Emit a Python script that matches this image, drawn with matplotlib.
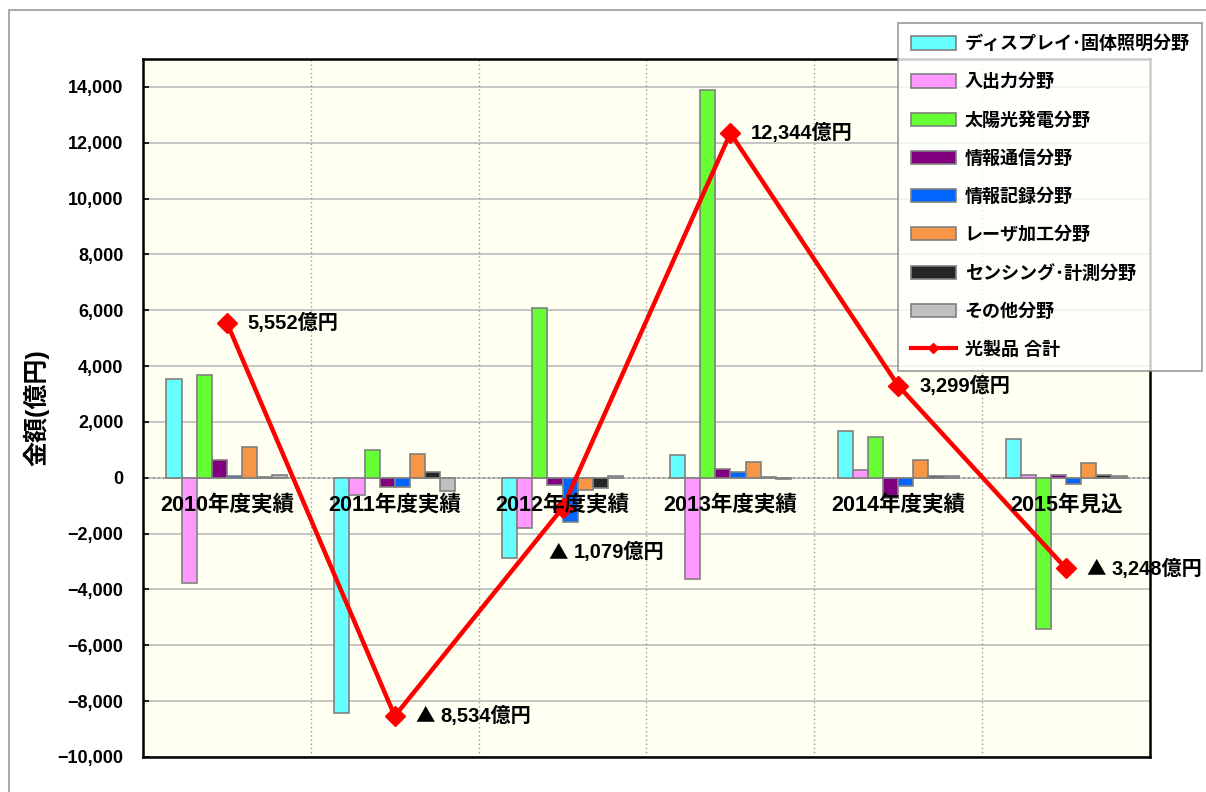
import matplotlib
matplotlib.use("Agg")
import matplotlib.pyplot as plt
import numpy as np
from matplotlib.patches import Rectangle, Patch
from matplotlib.lines import Line2D

plt.rcParams['font.family'] = ['Liberation Sans', 'Noto Sans CJK JP', 'DejaVu Sans']
plt.rcParams['font.weight'] = 'bold'

categories = ["2010年度実績", "2011年度実績", "2012年度実績", "2013年度実績", "2014年度実績", "2015年見込"]
series_names = ["ディスプレイ･固体照明分野", "入出力分野", "太陽光発電分野", "情報通信分野",
                "情報記録分野", "レーザ加工分野", "センシング･計測分野", "その他分野"]
display = [3530, -8420, -2860, 820, 1690, 1400]
io = [-3760, -600, -1810, -3630, 280, 110]
solar = [3690, 990, 6080, 13880, 1450, -5410]
infocomm = [640, -340, -270, 320, -710, 110]
storage = [70, -340, -1580, 220, -290, -230]
laser = [1100, 840, -450, 580, 640, 530]
sensing = [35, 190, -350, 40, 50, 110]
other = [100, -470, 60, -50, 50, 60]
total_name = "光製品 合計"
totals = [5552, -8534, -1079, 12344, 3299, -3248]
yticks = list(range(-10000, 14001, 2000))

series = [display, io, solar, infocomm, storage, laser, sensing, other]
colors = ["#66FFFF", "#FF99FF", "#66FF33", "#800080", "#0066FF", "#F79646", "#262626", "#C0C0C0"]

fig = plt.figure(figsize=(12.06, 7.92), dpi=100)
ax = fig.add_axes([143/1206, 1-757/792, (1150-143)/1206, (757-59)/792])
ax.set_facecolor("#FFFFF2")

x = np.arange(len(categories))
w = 0.09
for i, (vals, c) in enumerate(zip(series, colors)):
    ax.bar(x + (i - 3.5) * w, vals, width=w, color=c, edgecolor="#808080", linewidth=1.2, zorder=3)

ax.plot(x, totals, color="#FF0000", linewidth=3.2, marker="D", markersize=10,
        markerfacecolor="#FF0000", markeredgecolor="#FF0000", zorder=5)

ax.set_xlim(-0.5, len(categories) - 0.5)
ax.set_ylim(-10000, 15000)
ax.set_yticks(yticks)
ax.set_yticklabels([f"{v:,}".replace("-", "\u2212") for v in yticks], fontsize=13, fontweight='bold')
ax.tick_params(axis='y', direction='in', length=4, width=1.2, pad=14)
ax.set_xticks([])
ax.yaxis.grid(True, color="#C0C0C0", linewidth=1.3, zorder=0)
ax.set_axisbelow(True)
for b in np.arange(0.5, len(categories) - 0.5, 1.0):
    ax.axvline(b, color="#999999", linestyle=(0, (1, 2)), linewidth=1.0, zorder=1)
ax.axhline(0, color="#888888", linestyle=(0, (1, 2)), linewidth=1.2, zorder=2)
for s in ax.spines.values():
    s.set_linewidth(1.8)
    s.set_color("black")

for xi, lab in zip(x, categories):
    ax.annotate(lab, (xi, 0), xytext=(0, -12), textcoords='offset points', ha='center', va='top',
                fontsize=15.5, fontweight='bold', zorder=6)

cjk = ['Noto Sans CJK JP', 'DejaVu Sans']
for i, v in enumerate(totals):
    num = f"{abs(v):,}億円"
    base = (-10, -32) if i == 2 else (15, 0)
    if v < 0:
        ax.annotate("▲", (x[i], v), xytext=base, textcoords='offset points', ha='left', va='center',
                    fontsize=14, fontweight='bold', family=cjk, zorder=7)
        off = (base[0] + 18, base[1])
    else:
        off = base
    ax.annotate(num, (x[i], v), xytext=off, textcoords='offset points', ha='left', va='center',
                fontsize=14.5, fontweight='bold', zorder=7)

ax.set_ylabel("金額(億円)", fontsize=18, fontweight='bold')
ax.yaxis.set_label_coords(-0.093, 0.5)

handles = [Patch(facecolor=c, edgecolor="#808080", linewidth=1.2) for c in colors]
handles.append(Line2D([0], [0], color="#FF0000", linewidth=3, marker="D", markersize=5))
leg = fig.legend(handles, series_names + [total_name], loc='upper left',
                 bbox_to_anchor=(898/1206, 1-23/792), frameon=True, fancybox=False,
                 prop={'size': 13, 'weight': 'bold'}, handlelength=2.5, handleheight=0.75,
                 labelspacing=1.14, borderpad=0.7, handletextpad=0.5, borderaxespad=0)
leg.get_frame().set_edgecolor("#808080")
leg.get_frame().set_linewidth(1.2)
leg.set_zorder(10)

fig.patches.append(Rectangle((9/1206, -0.1), 1.2, (792-10)/792 + 0.1, transform=fig.transFigure,
                             fill=False, edgecolor="#999999", linewidth=1.2))

fig.savefig("out.png", dpi=100)
